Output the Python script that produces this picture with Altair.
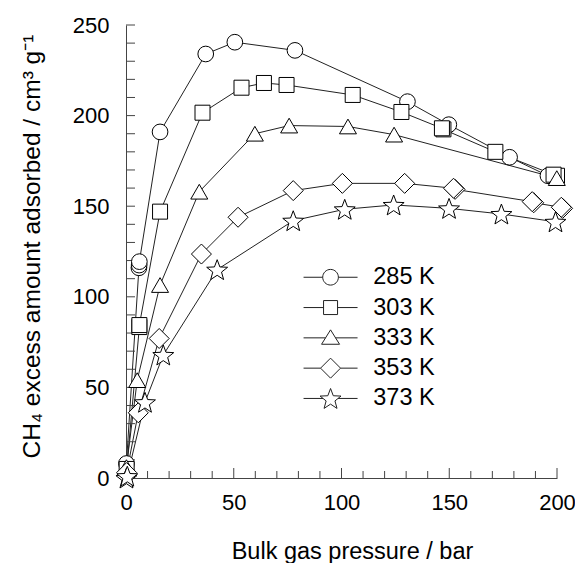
import math
import altair as alt
import pandas as pd

FONT = "Liberation Sans"

series_names = ["285 K", "303 K", "333 K", "353 K", "373 K"]

# 285 K (circles)
p285 = [0.2, 6.0, 6.1, 6.2, 15.8, 37.0, 50.5, 78.4, 130.6, 149.8, 178.0, 195.8]
q285 = [8.0, 116.0, 117.5, 119.4, 191.0, 234.0, 240.5, 236.0, 207.7, 195.0, 177.0, 166.8]
# 303 K (squares)
p303 = [0.3, 6.2, 6.2, 15.8, 35.5, 53.6, 64.0, 74.5, 105.2, 127.8, 147.3, 146.6, 171.4, 200.0, 198.4]
q303 = [5.0, 83.3, 84.4, 147.0, 201.6, 215.4, 218.0, 216.9, 211.4, 202.0, 192.4, 193.0, 180.0, 166.8, 167.4]
# 333 K (triangles)
p333 = [0.2, 5.2, 15.8, 34.0, 59.8, 75.7, 103.0, 124.4, 199.9]
q333 = [6.0, 54.0, 106.5, 158.0, 190.0, 194.5, 194.0, 189.5, 165.5]
# 353 K (diamonds)
p353 = [0.3, 5.7, 15.4, 35.0, 52.0, 77.6, 100.4, 129.3, 152.7, 152.0, 189.2, 188.5, 202.6, 202.0]
q353 = [3.0, 36.0, 77.0, 123.6, 143.9, 158.6, 162.6, 162.6, 159.3, 159.9, 151.9, 152.5, 148.8, 149.4]
# 373 K (stars)
p373 = [0.2, 0.6, 8.8, 17.3, 42.3, 77.6, 101.5, 124.2, 149.9, 174.2, 199.3]
q373 = [0.0, 1.0, 41.8, 67.9, 115.0, 142.0, 148.3, 150.7, 148.8, 145.7, 141.4]

x_major = [0, 50, 100, 150, 200]
x_minor = [10, 20, 30, 40, 60, 70, 80, 90, 110, 120, 130, 140, 160, 170, 180, 190]
y_ticks = [0, 10, 20, 30, 40, 50, 60, 70, 80, 90, 100, 110, 120, 130, 140, 150,
           160, 170, 180, 190, 200, 210, 220, 230, 240, 250]
y_labels = [0, 50, 100, 150, 200, 250]

rows = []
for name, px, qy in zip(series_names, [p285, p303, p333, p353, p373],
                        [q285, q303, q333, q353, q373]):
    for a, b in zip(px, qy):
        rows.append({"series": name, "pressure": a, "amount": b})
df = pd.DataFrame(rows)
df["order"] = range(len(df))


def star_path(R, r, dy, line=None):
    pts = []
    for k in range(10):
        ang = math.radians(-90 + 36 * k)
        rad = R if k % 2 == 0 else r
        pts.append((rad * math.cos(ang), rad * math.sin(ang) + dy))
    s = "M" + "L".join(f"{x:.3f},{y:.3f}" for x, y in pts) + "Z"
    if line:
        s = f"M-{line[0]},0H-{line[1]}M{line[1]},0H{line[0]}" + s
    return s


star_plot = star_path(1.0, 0.42, 0.0955)
plot_shapes = ["circle", "square", "triangle-up", "diamond", star_plot]
plot_sizes = [246, 225, 289, 400, 484]

L = 3.375
legend_shapes = [
    f"M-{L},0H-0.98M0.98,0H{L}M0.98,0A0.98,0.98,0,1,1,-0.98,0A0.98,0.98,0,1,1,0.98,0Z",
    f"M-{L},0H-0.875M0.875,0H{L}M-0.875,-0.875H0.875V0.875H-0.875Z",
    f"M-{L},0H-0.625M0.625,0H{L}M0,-1L1.125,0.8H-1.125Z",
    f"M-{L},0H-1.25M1.25,0H{L}M-1.25,0L0,-1.25L1.25,0L0,1.25Z",
    star_path(1.375, 0.58, 0.13, line=(L, 0.94)),
]

x_scale = alt.Scale(domain=[0, 200], nice=False, zero=False)
y_scale = alt.Scale(domain=[0, 250], nice=False, zero=False)

AX = "#444444"
X_TITLE = "Bulk gas pressure / bar"
Y_TITLE = "CH\u2084 excess amount adsorbed / cm\u00b3 g\u207b\u00b9"

x_axis = alt.Axis(values=x_major, ticks=False, labelPadding=14, labelFontSize=22,
                  labelFont=FONT, labelColor="black", title=X_TITLE,
                  titleFont=FONT, titleFontSize=23.5, titleFontWeight="normal",
                  titleColor="black", titlePadding=26, titleX=226, domainColor=AX,
                  grid=False, labelFlush=False)
y_axis = alt.Axis(values=y_labels, ticks=False, labelPadding=17, labelFontSize=22,
                  labelFont=FONT, labelColor="black", title=Y_TITLE,
                  titleFont=FONT, titleFontSize=24.5, titleFontWeight="normal",
                  titleColor="black", titleX=-94, titleY=221, titleBaseline="middle",
                  domainColor=AX, grid=False, labelFlush=False)


def X(field):
    return alt.X(field, scale=x_scale, axis=x_axis, title=X_TITLE)


def Y(field):
    return alt.Y(field, scale=y_scale, axis=y_axis, title=Y_TITLE)


lines = alt.Chart(df).mark_line(color="#222222", strokeWidth=1).encode(
    x=X("pressure:Q"), y=Y("amount:Q"), detail="series:N",
)

point_layers = []
for name, shp, sz in zip(series_names, plot_shapes, plot_sizes):
    point_layers.append(
        alt.Chart(df).transform_filter(alt.datum.series == name).mark_point(
            filled=True, fill="white", stroke="black", strokeWidth=1, opacity=1,
            shape=shp, size=sz).encode(
            x=X("pressure:Q"), y=Y("amount:Q"), order=alt.Order("order:Q"))
    )

legend_layer = alt.Chart(df).transform_filter("datum.amount < -1000").mark_point(
    filled=False, color="#222222", strokeWidth=1, opacity=1).encode(
    x=X("pressure:Q"), y=Y("amount:Q"),
    shape=alt.Shape("series:N", scale=alt.Scale(domain=series_names, range=legend_shapes),
                    legend=alt.Legend(orient="none", legendX=192.8, legendY=240.5,
                                      title=None, labelFontSize=23.5, labelFont=FONT,
                                      labelColor="black", symbolSize=256,
                                      symbolStrokeWidth=1,
                                      symbolStrokeColor="#222222", symbolOpacity=1,
                                      rowPadding=5.3, labelOffset=31, padding=0)),
)

xt_major = alt.Chart(pd.DataFrame({"pressure": x_major})).mark_rule(color=AX, strokeWidth=1).encode(
    x=X("pressure:Q"), y=alt.value(453), y2=alt.value(443))
xt_minor = alt.Chart(pd.DataFrame({"pressure": x_minor})).mark_rule(color=AX, strokeWidth=1).encode(
    x=X("pressure:Q"), y=alt.value(453), y2=alt.value(446))
yt = alt.Chart(pd.DataFrame({"amount": y_ticks})).mark_rule(color=AX, strokeWidth=1).encode(
    y=Y("amount:Q"), x=alt.value(0), x2=alt.value(9))

chart = alt.layer(lines, xt_major, xt_minor, yt, *point_layers, legend_layer).properties(
    width=431, height=453,
    padding={"left": 118, "top": 17, "right": 18, "bottom": 85},
    autosize=alt.AutoSizeParams(type="none"),
    background="white",
).configure_view(stroke=None)

chart.save("out.html", embed_options={"renderer": "svg", "actions": False})
